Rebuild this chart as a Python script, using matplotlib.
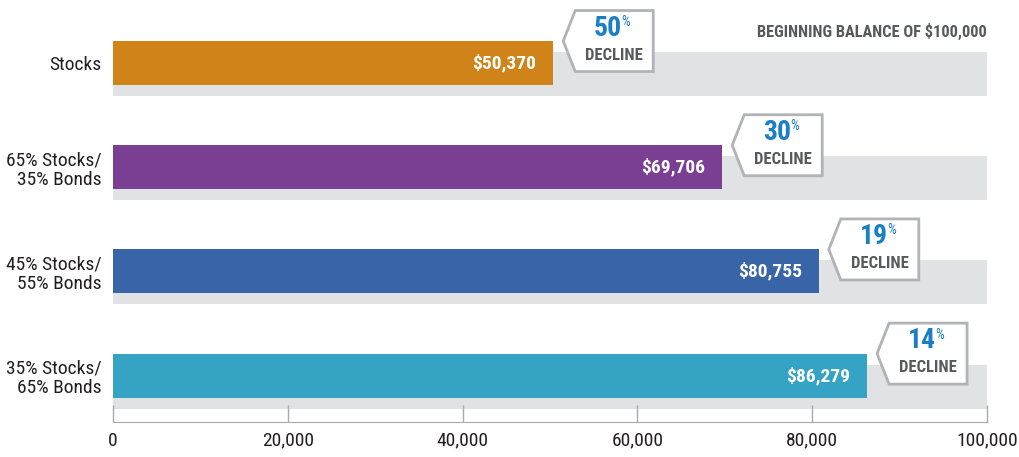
import matplotlib
matplotlib.use("Agg")
import matplotlib.pyplot as plt
from matplotlib.patches import Polygon
from matplotlib.ticker import FuncFormatter

plt.rcParams['font.family'] = ['Roboto Condensed', 'DejaVu Sans']

# data
labels = ['Stocks', '65% Stocks/\n35% Bonds', '45% Stocks/\n55% Bonds', '35% Stocks/\n65% Bonds']
balances = [50370, 69706, 80755, 86279]
declines = [50, 30, 19, 14]
colors = ['#d08318', '#7a3e92', '#3864a8', '#35a3c4']
start = 100000

fig = plt.figure(figsize=(10.19, 4.57), dpi=100)
ax = fig.add_axes([113 / 1019, 1 - 422 / 457, 874 / 1019, 422 / 457])
ax.set_xlim(0, 100000)
ax.set_ylim(3.445, -0.605)

# pixel -> data helpers
PX_X = 100000 / 874
PX_Y = 1 / 104.2

bar_h = 44 * PX_Y
shift = 11 * PX_Y
rows = range(len(labels))

for i in rows:
    # grey "beginning balance" bar behind, shifted down
    ax.barh(i + shift, start, height=bar_h, color='#e1e2e4', zorder=1)
    ax.barh(i, balances[i], height=bar_h, color=colors[i], zorder=2)
    ax.text(balances[i] - 17 * PX_X, i, f'${balances[i]:,}', color='white',
            fontsize=14, fontweight='bold', ha='right', va='center', zorder=3)

    # callout pentagon
    tip_x = balances[i] + 10 * PX_X
    cy = i - bar_h / 2
    hh = 30.5 * PX_Y
    x0 = tip_x + 12 * PX_X
    x1 = tip_x + 90 * PX_X
    pts = [(tip_x, cy), (x0, cy - hh), (x1, cy - hh), (x1, cy + hh), (x0, cy + hh)]
    ax.add_patch(Polygon(pts, closed=True, facecolor='white', edgecolor='#b1b3b6',
                         linewidth=2, zorder=4, clip_on=False))
    xc = (x0 + x1) / 2
    ax.text(xc + 8 * PX_X, cy - 13 * PX_Y, f'{declines[i]}', color='#1b7fc4',
            fontsize=20, fontweight='bold', ha='right', va='center', zorder=5)
    ax.text(xc + 7 * PX_X, cy - 19 * PX_Y, '%', color='#1b7fc4',
            fontsize=10, ha='left', va='center', zorder=5)
    ax.text(xc, cy + 14 * PX_Y, 'DECLINE', color='#58595b',
            fontsize=12, fontweight='bold', ha='center', va='center', zorder=5)

ax.text(100000, -0.3, 'BEGINNING BALANCE OF $100,000', color='#58595b',
        fontsize=11.8, fontweight='bold', ha='right', va='center')

ax.set_yticks(list(rows))
ax.set_yticklabels(labels, fontsize=14, color='#231f20', linespacing=1.1)
ax.tick_params(axis='y', length=0, pad=8)

ax.set_xticks(range(0, 100001, 20000))
ax.xaxis.set_major_formatter(FuncFormatter(lambda v, p: f'{int(v):,}'))
ax.tick_params(axis='x', direction='in', length=12, width=1, color='#a7a9ac',
               labelsize=14, labelcolor='#231f20', pad=7)

for s in ['top', 'right', 'left']:
    ax.spines[s].set_visible(False)
ax.spines['bottom'].set_color('#a7a9ac')
ax.patch.set_alpha(0)

fig.savefig('out.png', dpi=100)
